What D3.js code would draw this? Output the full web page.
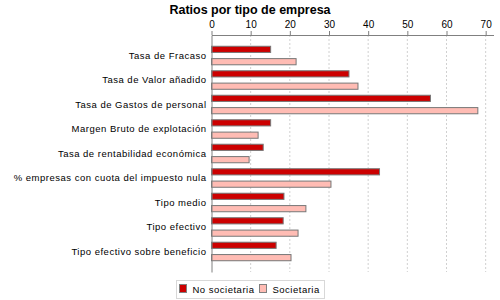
<!DOCTYPE html>
<html>
<head>
<meta charset="utf-8">
<script src="https://cdn.jsdelivr.net/npm/d3@7"></script>
<style>
  body { margin: 0; background: #fff; }
  text { font-family: "Liberation Sans", Arial, sans-serif; }
</style>
</head>
<body>
<svg id="chart" width="500" height="300"></svg>
<script>
var categories = ['Tasa de Fracaso', 'Tasa de Valor añadido', 'Tasa de Gastos de personal',
  'Margen Bruto de explotación', 'Tasa de rentabilidad económica',
  '% empresas con cuota del impuesto nula', 'Tipo medio', 'Tipo efectivo',
  'Tipo efectivo sobre beneficio'];
var noSocietaria = [15.1, 35.1, 55.9, 15.1, 13.2, 42.9, 18.5, 18.3, 16.5];
var societaria = [21.6, 37.4, 68.0, 11.9, 9.6, 30.5, 24.1, 22.1, 20.3];
var seriesNames = ['No societaria', 'Societaria'];
var tickValues = [0, 10, 20, 30, 40, 50, 60, 70];

var marginLeft = 211.5;
var marginTop = 35;
var width = 282;
var height = 237;
var colors = ['#cc0000', '#ffbcb4'];

var svg = d3.select('#chart');

svg.append('text')
  .attr('x', 250).attr('y', 14)
  .attr('text-anchor', 'middle')
  .attr('font-size', '12.5px')
  .attr('font-weight', 'bold')
  .text('Ratios por tipo de empresa');

var xScale = d3.scaleLinear().domain([0, 72]).range([0, width]);
var yScale = d3.scaleBand().domain(categories).range([0, height])
  .paddingInner(0.244).paddingOuter(0.46);
var inner = d3.scaleBand().domain(seriesNames).range([0, yScale.bandwidth()])
  .paddingInner(0.5);

var graph = svg.append('g')
  .attr('transform', 'translate(' + marginLeft + ',' + marginTop + ')');

// gridlines
graph.selectAll('line.grid')
  .data(tickValues.slice(1))
  .enter().append('line')
  .attr('class', 'grid')
  .attr('x1', function(d){ return xScale(d); })
  .attr('x2', function(d){ return xScale(d); })
  .attr('y1', 0).attr('y2', height)
  .attr('stroke', '#d0d0d0')
  .attr('stroke-dasharray', '2,2');

// bars
var rows = graph.selectAll('g.row')
  .data(categories)
  .enter().append('g')
  .attr('class', 'row')
  .attr('transform', function(d){ return 'translate(0,' + yScale(d) + ')'; });

rows.each(function(cat, i){
  var vals = [noSocietaria[i], societaria[i]];
  d3.select(this).selectAll('rect')
    .data(vals)
    .enter().append('rect')
    .attr('x', 0)
    .attr('y', function(d, j){ return inner(seriesNames[j]); })
    .attr('width', function(d){ return xScale(d); })
    .attr('height', inner.bandwidth())
    .attr('fill', function(d, j){ return colors[j]; })
    .attr('stroke', '#777')
    .attr('stroke-width', 1);
});

// axes
var xAxis = d3.axisTop(xScale).tickValues(tickValues).tickSize(4).tickSizeOuter(0);
var gx = graph.append('g').call(xAxis);
gx.select('.domain').attr('stroke', '#808080');
gx.selectAll('.tick line').attr('stroke', '#808080');
gx.selectAll('.tick text').attr('font-size', '10px').attr('fill', '#000')
  .attr('font-family', '"Liberation Sans", Arial, sans-serif');

var yAxis = d3.axisLeft(yScale).tickSize(0).tickPadding(5);
var gy = graph.append('g').call(yAxis);
gy.select('.domain').attr('stroke', '#808080');
gy.selectAll('.tick text').attr('font-size', '9.5px').attr('fill', '#000')
  .attr('letter-spacing', '0.5px')
  .attr('font-family', '"Liberation Sans", Arial, sans-serif');

// legend
var legend = svg.append('g').attr('transform', 'translate(176.5,280.5)');
legend.append('rect')
  .attr('width', 148).attr('height', 18)
  .attr('fill', '#fff').attr('stroke', '#d8d8d8');
var legendX = [3, 83];
seriesNames.forEach(function(name, j){
  var item = legend.append('g').attr('transform', 'translate(' + legendX[j] + ',4)');
  item.append('rect')
    .attr('width', 7).attr('height', 8)
    .attr('fill', colors[j]).attr('stroke', '#808080');
  item.append('text')
    .attr('x', 13).attr('y', 8.5)
    .attr('font-size', '9.5px')
    .attr('letter-spacing', '0.5px')
    .text(name);
});
</script>
</body>
</html>
